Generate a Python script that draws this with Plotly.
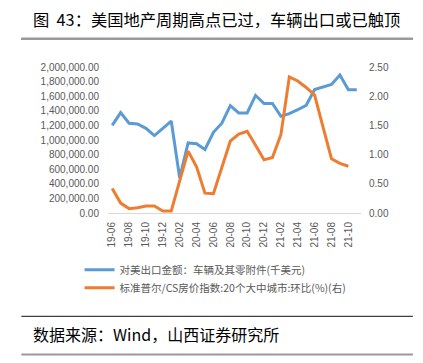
import plotly.graph_objects as go

months = ["19-06", "19-07", "19-08", "19-09", "19-10", "19-11", "19-12",
          "20-01", "20-02", "20-03", "20-04", "20-05", "20-06", "20-07",
          "20-08", "20-09", "20-10", "20-11", "20-12", "21-01", "21-02",
          "21-03", "21-04", "21-05", "21-06", "21-07", "21-08", "21-09",
          "21-10", "21-11"]

tick_labels = ["19-06", "19-08", "19-10", "19-12", "20-02", "20-04", "20-06",
               "20-08", "20-10", "20-12", "21-02", "21-04", "21-06", "21-08",
               "21-10"]

export_value = [1200000, 1375000, 1230000, 1220000, 1160000, 1060000, 1160000,
                1260000, 480000, 960000, 950000, 870000, 1105000, 1230000,
                1470000, 1370000, 1370000, 1610000, 1500000, 1500000, 1325000,
                1360000, 1415000, 1475000, 1690000, 1730000, 1760000, 1890000,
                1690000, 1690000]

hpi_mom = [0.42, 0.17, 0.075, 0.09, 0.12, 0.12, 0.035, 0.035, 0.55, 1.06,
           0.79, 0.34, 0.33, 0.79, 1.23, 1.35, 1.40, 1.16, 0.91, 0.95,
           1.34, 2.33, 2.26, 2.15, 2.02, 1.47, 0.93, 0.85, 0.80, None]

boundary_ticks = [-0.5 + 2 * k for k in range(16)]

name_blue = "对美出口金额：车辆及其零附件(千美元)"
name_orange = "标准普尔/CS房价指数:20个大中城市:环比(%)(右)"

# page has an 8px body margin, so the figure is 8px smaller and offset
OFF = 8
W, H = 423 - OFF, 363 - OFF
# plot area in page pixels
L, R, T, B = 107.5, 361.0, 66.7, 212.7
pw, ph = R - L, B - T


def px(x):
    return (x - L) / pw


def py(y):
    return (B - y) / ph


fig = go.Figure()
fig.add_trace(go.Scatter(x=months, y=export_value, name=name_blue, mode="lines",
                         line=dict(color="#5B9BD5", width=3), yaxis="y",
                         legend="legend"))
fig.add_trace(go.Scatter(x=months, y=hpi_mom, name=name_orange, mode="lines",
                         line=dict(color="#ED7D31", width=3), yaxis="y2",
                         legend="legend2"))

tick_font = dict(family="Liberation Sans, Arial", size=10, color="#595959")
legend_font = dict(family="Noto Sans CJK SC", size=10.5, color="#595959")

rules = [
    dict(type="line", xref="paper", yref="paper", x0=px(20.7), x1=px(413),
         y0=py(316), y1=py(316), line=dict(color="#111111", width=1)),
    dict(type="line", xref="paper", yref="paper", x0=px(20.7), x1=px(413),
         y0=py(354.3), y1=py(354.3), line=dict(color="#9a9a9a", width=2)),
    dict(type="rect", xref="paper", yref="paper", x0=px(20.7), x1=px(413),
         y0=py(39.3), y1=py(37.3), fillcolor="#9a9a9a",
         line=dict(width=0), layer="above"),
]

fig.update_layout(
    width=W, height=H,
    margin=dict(l=L - OFF, r=423 - R, t=T - OFF, b=363 - B, pad=0),
    paper_bgcolor="white", plot_bgcolor="white",
    showlegend=True,
    shapes=rules,
    legend=dict(x=px(79), y=py(269.5), xanchor="left", yanchor="middle",
                orientation="v", bgcolor="rgba(0,0,0,0)", font=legend_font),
    legend2=dict(x=px(79), y=py(287.5), xanchor="left", yanchor="middle",
                 orientation="v", bgcolor="rgba(0,0,0,0)", font=legend_font),
    xaxis=dict(type="category", categoryorder="array", categoryarray=months,
               range=[-0.5, 29.5], tickvals=tick_labels, ticktext=tick_labels,
               tickangle=-90, ticks="", showgrid=False, zeroline=False,
               showline=True, linecolor="#d9d9d9", linewidth=1,
               tickfont=tick_font, ticklabelstandoff=4),
    xaxis2=dict(overlaying="x", anchor="y", side="bottom", range=[-0.5, 29.5],
                tickvals=boundary_ticks, ticks="outside", ticklen=5,
                tickcolor="#d9d9d9", tickwidth=1, showticklabels=False,
                showgrid=False, zeroline=False, showline=False),
    yaxis=dict(range=[0, 2000000], dtick=200000, tickformat=",.2f",
               showgrid=False, zeroline=False, showline=False, ticks="",
               tickfont=tick_font, ticklabelstandoff=8),
    yaxis2=dict(range=[0, 2.5], dtick=0.5, tickformat=".2f", overlaying="y",
                side="right", showgrid=False, zeroline=False, showline=False,
                ticks="", tickfont=tick_font, ticklabelstandoff=7),
)

# grey rule under the title, drawn as a filled annotation box as well
fig.add_annotation(xref="paper", yref="paper", x=px(20.7), y=py(38.3),
                   xanchor="left", yanchor="middle", showarrow=False,
                   text=" ", width=392, height=2, bgcolor="#9a9a9a",
                   borderpad=0, borderwidth=0, font=dict(size=1))

fig.add_annotation(xref="paper", yref="paper", x=px(30), y=py(18.5),
                   xanchor="left", yanchor="middle", showarrow=False,
                   text="图  43：美国地产周期高点已过，车辆出口或已触顶",
                   font=dict(family="Noto Sans CJK SC", size=16.3, color="#000000"))
fig.add_annotation(xref="paper", yref="paper", x=px(30), y=py(333.5),
                   xanchor="left", yanchor="middle", showarrow=False,
                   text="数据来源：Wind，山西证券研究所",
                   font=dict(family="Noto Sans CJK SC", size=16, color="#000000"))

fig.write_html("out.html", config={"displayModeBar": False})
